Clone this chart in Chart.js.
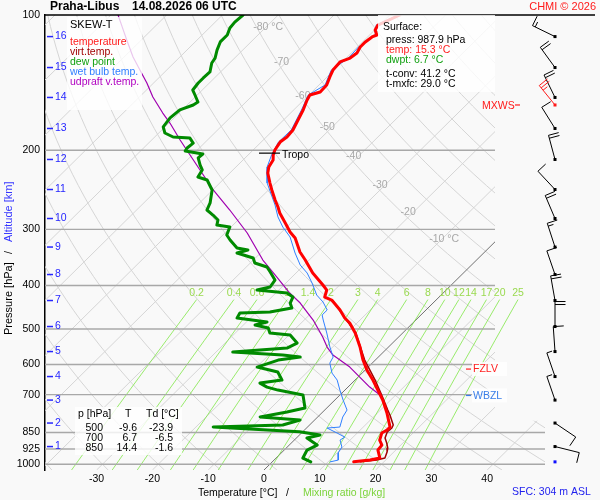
<!DOCTYPE html>
<html>
<head>
<meta charset="utf-8">
<title>Skew-T Praha-Libus</title>
<script src="https://cdn.jsdelivr.net/npm/chart.js@4.4.1/dist/chart.umd.min.js"></script>
<style>
html, body { margin: 0; padding: 0; background: #f9f9f9; }
canvas { display: block; }
</style>
</head>
<body>
<canvas id="skewt" width="600" height="500"></canvas>
<script>
// axis ticks
var pressureTicks = [100, 200, 300, 400, 500, 600, 700, 850, 925, 1000];
var tempTicks = [-30, -20, -10, 0, 10, 20, 30, 40];
var mixRatios = [0.2, 0.4, 0.6, 1, 1.4, 2, 3, 4, 6, 8, 10, 12, 14, 17, 20, 25];

// sounding: pressure [hPa] / temperature [°C]
var tempP = [100, 105.3, 108.0, 110.8, 111.9, 114.8, 117.8, 121.5, 124.7, 127.2, 132.6, 137.4, 143.2, 148.4, 150.7, 154.6,
    162.7, 171.3, 180.3, 186.9, 191.8, 199.8, 204.9, 210.3, 218.0, 224.8, 236.6, 245.2, 258.1, 267.6, 275.9, 290.4,
    304.2, 313.7, 337.0, 351.1, 375.3, 399.1, 409.5, 424.4, 431.0, 453.6, 472.6, 484.9, 510.4, 548.4, 586.3, 617.1,
    649.6, 683.8, 719.8, 769.2, 826.5, 839.3, 852.3, 883.5, 906.4, 929.9, 968.8, 978.8, 987.9];
var tempT = [-58.2, -60.3, -59.9, -58.7, -59.2, -59.5, -59.5, -59.0, -59.3, -60.4, -60.2, -59.5, -58.6, -58.5, -59.8, -59.4,
    -58.3, -57.4, -56.5, -56.3, -56.6, -56.1, -55.5, -54.6, -54.1, -53.2, -51.0, -49.4, -47.0, -45.2, -43.8, -41.0,
    -38.5, -36.5, -33.1, -30.7, -27.0, -23.0, -21.4, -20.5, -18.7, -15.4, -13.1, -11.3, -8.5, -5.1, -2.2, 0.3,
    3.2, 5.9, 8.6, 11.7, 14.8, 14.8, 14.4, 15.3, 16.6, 16.8, 18.6, 17.2, 14.6];

var virtP = [431.0, 510.4, 586.3, 649.6, 701.6, 757.4, 777.1, 817.9, 830.7, 847.9, 874.5, 897.0, 920.4, 939.5, 968.8, 978.8, 987.9];
var virtT = [-18.6, -8.4, -1.9, 3.6, 7.5, 11.3, 12.6, 15.0, 15.3, 15.2, 15.9, 17.1, 18.2, 18.8, 19.5, 18.4, 15.8];

var dewP = [100, 103.7, 106.9, 110.8, 114.8, 119.7, 124.7, 127.9, 133.9, 138.1, 141.7, 146.9, 150.7, 156.2, 158.6, 162.7,
    169.5, 177.5, 183.1, 186.9, 187.9, 192.8, 197.7, 200.8, 203.9, 208.1, 215.7, 221.3, 229.4, 233.0, 245.2, 262.1,
    271.7, 278.8, 286.0, 293.4, 296.5, 308.9, 316.9, 330.2, 333.5, 338.7, 347.5, 356.5, 363.9, 373.4, 389.0, 403.2,
    409.5, 415.8, 424.4, 437.7, 449.0, 458.3, 460.7, 472.6, 482.5, 489.9, 497.5, 510.4, 515.7, 537.3, 551.3, 562.7,
    571.4, 577.3, 586.3, 607.7, 623.5, 649.6, 659.7, 673.4, 683.8, 701.6, 749.7, 765.2, 785.1, 797.3, 817.9, 826.5,
    846.6, 861.1, 874.5, 906.4, 929.9, 968.8, 987.9];
var dewT = [-86.3, -86.5, -86.3, -85.5, -85.5, -84.6, -83.5, -83.2, -81.9, -82.0, -82.0, -81.7, -80.4, -78.6, -78.9, -80.4,
    -80.7, -80.3, -78.9, -76.7, -73.5, -72.0, -72.2, -72.0, -68.3, -68.4, -66.8, -65.5, -65.0, -62.8, -60.1, -58.1,
    -57.4, -55.4, -53.6, -52.9, -50.2, -49.3, -47.8, -45.1, -42.8, -44.2, -40.4, -39.2, -36.3, -34.8, -32.5, -32.1,
    -33.9, -28.0, -26.2, -25.6, -24.4, -27.6, -32.8, -32.4, -26.3, -27.9, -25.0, -23.8, -19.8, -17.1, -18.0, -27.0,
    -17.5, -14.0, -17.4, -19.9, -15.3, -13.1, -16.5, -14.5, -12.0, -6.6, -3.9, -6.4, -10.3, -2.6, -4.8, -16.9,
    -0.6, 3.7, 1.9, 5.0, 4.1, 4.8, 6.9];

var wetP = [100, 105.3, 110.8, 117.8, 124.7, 132.6, 143.2, 150.7, 162.7, 180.3, 191.8, 204.9, 218.0, 236.6, 264.8, 281.6,
    296.5, 312.0, 338.7, 360.2, 375.3, 395.1, 420.1, 435.4, 453.6, 465.4, 477.5, 510.4, 548.4, 577.3, 595.4, 626.7,
    649.6, 683.8, 719.8, 757.4, 785.1, 826.5, 830.7, 852.3, 870.0, 883.5, 915.7, 944.3, 978.8, 987.9];
var wetT = [-58.5, -60.6, -59.0, -59.8, -59.6, -60.5, -58.9, -60.1, -58.6, -56.8, -56.9, -55.8, -54.4, -51.5, -46.1, -43.4,
    -40.7, -37.6, -33.8, -30.7, -28.0, -25.3, -22.3, -19.9, -17.7, -17.7, -16.6, -13.6, -10.5, -8.1, -7.6, -5.4,
    -3.2, -0.9, 1.5, 4.0, 4.5, 5.8, 3.7, 6.4, 8.5, 8.2, 9.8, 10.2, 11.5, 10.4];

var parcelP = [100, 106.3, 113.7, 124.0, 132.6, 141.7, 152.2, 165.3, 174.0, 189.8, 199.8, 221.3, 245.2, 271.7, 305.7, 351.1,
    383.1, 415.8, 437.7, 477.5, 521.0, 548.4, 571.4, 607.7, 639.7, 673.4, 701.6];
var parcelT = [-108.7, -105.8, -102.6, -98.4, -94.8, -91.2, -87.6, -82.9, -79.8, -74.9, -71.9, -65.9, -59.9, -53.3, -46.0, -38.3,
    -32.7, -27.5, -23.8, -18.4, -13.6, -11.0, -8.5, -3.3, 0.3, 3.9, 7.2];

// altitude marks and winds at those heights
var altKm = [16, 15, 14, 13, 12, 11, 10, 9, 8, 7, 6, 5, 4, 3, 2, 1];
var altP = [111.7, 130.9, 152.6, 178.9, 209.7, 244.6, 283.8, 328.5, 378.2, 432.1, 493.7, 561.3, 638.0, 719.8, 809.7, 913.4];
var windDir = [296, 324, 334, 328, 345, 317, 337, 342, 341, 350, 360, 356, 341, 341, 124, 104];
var windSpd = [15, 20, 20, 10, 20, 10, 20, 15, 10, 20, 20, 10, 5, 5, 10, 10];
var mxwsP = 158.6, mxwsDir = 321, mxwsSpd = 25;

var tropoP = 203, fzlvP = 614, wbzlP = 703, sfcP = 987.9;

var tableP = [500, 700, 850];
var tableT = [-9.6, 6.7, 14.4];
var tableTd = [-23.9, -6.5, -1.6];

var surfaceLines = [
    ['press: 987.9 hPa', '#000'],
    ['temp: 15.3 °C', '#ff2020'],
    ['dwpt: 6.7 °C', '#10a010'],
    ['t-conv: 41.2 °C', '#000'],
    ['t-mxfc: 29.0 °C', '#000']
];

var SKEW = 81.5;          // °C shift per decade of pressure
var P_BOTTOM = 1030;
var DIAG_RIGHT = 495;
var BARB_X = 555;
var FONT = "'Liberation Sans', Arial, sans-serif";

function skewX(t, p) {
    return t + SKEW * Math.log10(P_BOTTOM / p);
}

function toPoints(ps, ts) {
    return ps.map(function (p, i) { return { x: skewX(ts[i], p), y: p }; });
}

function satTemp(w, p) {
    var e = w * p / (622 + w);
    var l = Math.log(e / 6.112);
    return 243.5 * l / (17.67 - l);
}

function line(label, ps, ts, color, width) {
    return {
        label: label,
        data: toPoints(ps, ts),
        showLine: true,
        borderColor: color,
        backgroundColor: color,
        borderWidth: width,
        pointRadius: 0,
        borderJoinStyle: 'round',
        borderCapStyle: 'round',
        fill: false,
        tension: 0
    };
}

function drawBarb(ctx, x, y, dir, spd, color) {
    var r = dir * Math.PI / 180;
    var sx = Math.sin(r), sy = -Math.cos(r);
    var bx = -sy, by = sx;
    var L = 25;
    ctx.strokeStyle = color;
    ctx.fillStyle = color;
    ctx.lineWidth = 1;
    ctx.beginPath();
    ctx.moveTo(x, y);
    ctx.lineTo(x + sx * L, y + sy * L);
    var pos = L, s = spd;
    while (s >= 10) {
        ctx.moveTo(x + sx * pos, y + sy * pos);
        ctx.lineTo(x + sx * pos + bx * 10.5, y + sy * pos + by * 10.5);
        pos -= 3;
        s -= 10;
    }
    if (s >= 5) {
        ctx.moveTo(x + sx * pos, y + sy * pos);
        ctx.lineTo(x + sx * pos + bx * 5.5, y + sy * pos + by * 5.5);
    }
    ctx.stroke();
    ctx.fillRect(x - 1.5, y - 1.5, 3, 3);
}

var skewPlugin = {
    id: 'skewPlugin',
    beforeDatasetsDraw: function (chart) {
        var ctx = chart.ctx, xs = chart.scales.x, ys = chart.scales.y, a = chart.chartArea;
        var P = function (t, p) { return [xs.getPixelForValue(skewX(t, p)), ys.getPixelForValue(p)]; };
        var yStep = ys.getPixelForValue(800);
        var i, p, q;

        ctx.save();
        ctx.beginPath();
        ctx.moveTo(a.left, a.top);
        ctx.lineTo(DIAG_RIGHT, a.top);
        ctx.lineTo(DIAG_RIGHT, yStep);
        ctx.lineTo(a.right, yStep);
        ctx.lineTo(a.right, a.bottom);
        ctx.lineTo(a.left, a.bottom);
        ctx.closePath();
        ctx.clip();
        ctx.lineWidth = 1;

        // dry adiabats
        ctx.strokeStyle = '#d5d5d5';
        for (var th = -40; th <= 180; th += 10) {
            ctx.beginPath();
            for (i = 0; i <= 40; i++) {
                p = P_BOTTOM * Math.pow(100 / P_BOTTOM, i / 40);
                q = P((th + 273.15) * Math.pow(p / 1000, 0.2857) - 273.15, p);
                if (i === 0) ctx.moveTo(q[0], q[1]); else ctx.lineTo(q[0], q[1]);
            }
            ctx.stroke();
        }
        // isotherms
        for (var t = -130; t <= 40; t += 10) {
            var b = P(t, P_BOTTOM), e = P(t, 100);
            ctx.strokeStyle = t === 0 ? '#707070' : '#d5d5d5';
            ctx.beginPath();
            ctx.moveTo(b[0], b[1]);
            ctx.lineTo(e[0], e[1]);
            ctx.stroke();
        }
        ctx.restore();

        // mixing ratio lines
        ctx.save();
        ctx.strokeStyle = 'rgba(120, 230, 60, 0.75)';
        ctx.lineWidth = 1;
        mixRatios.forEach(function (w) {
            ctx.beginPath();
            for (i = 0; i <= 12; i++) {
                p = P_BOTTOM - (P_BOTTOM - 430) * i / 12;
                q = P(satTemp(w, p), p);
                if (i === 0) ctx.moveTo(q[0], q[1]); else ctx.lineTo(q[0], q[1]);
            }
            ctx.stroke();
        });
        ctx.font = '10.5px ' + FONT;
        ctx.fillStyle = '#9ada50';
        ctx.textAlign = 'center';
        ctx.textBaseline = 'middle';
        mixRatios.forEach(function (w) {
            q = P(satTemp(w, 430), 430);
            ctx.fillText(String(w), q[0], q[1] - 6);
        });

        // pressure levels
        ctx.strokeStyle = '#a8a8a8';
        ctx.lineWidth = 1.4;
        pressureTicks.forEach(function (pp) {
            if (pp === 100) return;
            var y = ys.getPixelForValue(pp);
            ctx.beginPath();
            ctx.moveTo(a.left, y);
            ctx.lineTo(pp >= 850 ? a.right : DIAG_RIGHT, y);
            ctx.stroke();
        });

        // isotherm labels
        var labT = [-80, -70, -60, -50, -40, -30, -20, -10];
        var labP = [106.5, 127.2, 151.4, 177.5, 206, 239, 275, 315.6];
        ctx.fillStyle = '#a8a8a8';
        ctx.textAlign = 'left';
        labT.forEach(function (tt, k) {
            q = P(tt, labP[k]);
            var num = String(tt);
            var wNum = ctx.measureText(num).width;
            var txt = (tt === -80 || tt === -10) ? num + ' °C' : num;
            ctx.fillText(txt, q[0] - 5 - wNum / 2, q[1]);
        });
        ctx.restore();
    },
    afterDatasetsDraw: function (chart) {
        var ctx = chart.ctx, ys = chart.scales.y, a = chart.chartArea;
        ctx.save();
        ctx.font = '10.5px ' + FONT;
        ctx.textBaseline = 'middle';
        ctx.textAlign = 'left';

        // tropopause
        var yt = ys.getPixelForValue(tropoP);
        ctx.strokeStyle = '#000';
        ctx.lineWidth = 1.2;
        ctx.beginPath();
        ctx.moveTo(259, yt);
        ctx.lineTo(280, yt);
        ctx.stroke();
        ctx.fillStyle = '#000';
        ctx.fillText('Tropo', 282, yt + 2);

        // altitude marks
        ctx.strokeStyle = '#2626ff';
        ctx.fillStyle = '#2626ff';
        ctx.lineWidth = 1.5;
        altKm.forEach(function (km, k) {
            var y = ys.getPixelForValue(altP[k]);
            ctx.beginPath();
            ctx.moveTo(47, y);
            ctx.lineTo(53, y);
            ctx.stroke();
            ctx.fillText(String(km), 55, y);
        });

        // freezing and wet-bulb zero levels
        [[fzlvP, 'FZLV', '#ff2020'], [wbzlP, 'WBZL', '#3a7ee8']].forEach(function (lv) {
            var y = ys.getPixelForValue(lv[0]);
            ctx.fillStyle = 'rgba(255,255,255,0.85)';
            ctx.fillRect(472, y - 7, 35, 14);
            ctx.strokeStyle = lv[2];
            ctx.lineWidth = 1.2;
            ctx.beginPath();
            ctx.moveTo(466, y);
            ctx.lineTo(471, y);
            ctx.stroke();
            ctx.fillStyle = lv[2];
            ctx.fillText(lv[1], 473, y + 0.5);
        });

        // wind barbs
        altP.forEach(function (p, k) {
            drawBarb(ctx, BARB_X, ys.getPixelForValue(p), windDir[k], windSpd[k], '#000');
        });
        drawBarb(ctx, BARB_X, ys.getPixelForValue(mxwsP), mxwsDir, mxwsSpd, '#ff1a1a');
        ctx.fillStyle = '#1010ff';
        ctx.fillRect(BARB_X - 1.5, ys.getPixelForValue(sfcP) - 1.5, 3, 3);

        // top border
        ctx.strokeStyle = '#000';
        ctx.lineWidth = 1.5;
        ctx.beginPath();
        ctx.moveTo(a.left, a.top);
        ctx.lineTo(595, a.top);
        ctx.stroke();
        ctx.restore();
    },
    afterDraw: function (chart) {
        var ctx = chart.ctx, ys = chart.scales.y, ds = chart.data.datasets;
        ctx.save();
        ctx.textBaseline = 'middle';
        ctx.textAlign = 'left';

        // title
        ctx.font = 'bold 12px ' + FONT;
        ctx.fillStyle = '#000';
        ctx.fillText('Praha-Libus', 50, 7);
        ctx.fillText('14.08.2026 06 UTC', 132, 7);
        ctx.font = '11px ' + FONT;
        ctx.fillStyle = '#ff1a1a';
        ctx.textAlign = 'right';
        ctx.fillText('CHMI © 2026', 596, 7);
        ctx.textAlign = 'left';

        // legend box
        ctx.fillStyle = 'rgba(255,255,255,0.78)';
        ctx.fillRect(67, 17, 75, 93);
        ctx.font = '11px ' + FONT;
        ctx.fillStyle = '#000';
        ctx.fillText('SKEW-T', 70, 25);
        ctx.font = '10.5px ' + FONT;
        var legendColors = ['#ff1a1a', '#a00000', '#10a010', '#2f7fff', '#b000c0'];
        ds.forEach(function (d, k) {
            ctx.fillStyle = legendColors[k];
            ctx.fillText(d.label, 70, 42 + k * 10);
        });

        // surface box
        ctx.fillStyle = 'rgba(255,255,255,0.8)';
        ctx.fillRect(378, 15, 117, 77);
        ctx.fillStyle = '#000';
        ctx.fillText('Surface:', 383, 27);
        var sy = [40, 50, 60, 74, 84];
        surfaceLines.forEach(function (s, k) {
            ctx.fillStyle = s[1];
            ctx.fillText(s[0], 386, sy[k]);
        });

        // table box
        ctx.fillStyle = 'rgba(255,255,255,0.8)';
        ctx.fillRect(75, 407, 107, 48);
        ctx.fillStyle = '#000';
        ctx.fillText('p [hPa]', 78, 414);
        ctx.fillText('T', 125, 414);
        ctx.fillText('Td [°C]', 146, 414);
        ctx.textAlign = 'right';
        tableP.forEach(function (p, k) {
            var y = 428 + k * 10;
            ctx.fillText(String(p), 103, y);
            ctx.fillText(tableT[k].toFixed(1), 137, y);
            ctx.fillText(tableTd[k].toFixed(1), 173, y);
        });
        ctx.textAlign = 'left';

        // MXWS marker
        var ym = ys.getPixelForValue(mxwsP);
        ctx.fillStyle = '#ff1a1a';
        ctx.fillText('MXWS', 482, ym + 1);
        ctx.strokeStyle = '#ff1a1a';
        ctx.lineWidth = 1.2;
        ctx.beginPath();
        ctx.moveTo(515, ym);
        ctx.lineTo(520, ym);
        ctx.stroke();

        // axis titles
        ctx.fillStyle = '#000';
        ctx.fillText('Temperature [°C]', 198, 493);
        ctx.fillText('/', 286, 493);
        ctx.fillStyle = '#7bd33a';
        ctx.fillText('Mixing ratio [g/kg]', 303, 493);
        ctx.fillStyle = '#2222ee';
        ctx.fillText('SFC: 304 m ASL', 512, 492);

        ctx.translate(9, 259);
        ctx.rotate(-Math.PI / 2);
        ctx.font = '11px ' + FONT;
        ctx.fillStyle = '#000';
        ctx.fillText('Pressure [hPa]', -76, 0);
        ctx.fillText('/', 5, 0);
        ctx.fillStyle = '#3535ff';
        ctx.fillText('Altitude [km]', 17, 0);
        ctx.restore();
    }
};

Chart.defaults.font.family = FONT;
Chart.defaults.font.size = 10.5;
Chart.defaults.color = '#000';

new Chart(document.getElementById('skewt'), {
    type: 'scatter',
    data: {
        datasets: [
            line('temperature', tempP, tempT, '#ff0000', 3),
            line('virt.temp.', virtP, virtT, '#a00000', 1.5),
            line('dew point', dewP, dewT, '#008a00', 3),
            line('wet bulb temp.', wetP, wetT, '#2f7fff', 1),
            line('udpraft v.temp.', parcelP, parcelT, '#a000b0', 1.2)
        ]
    },
    options: {
        responsive: false,
        animation: false,
        devicePixelRatio: 1,
        events: [],
        layout: { padding: { top: 15, right: 55, bottom: 0, left: 0 } },
        scales: {
            x: {
                type: 'linear',
                min: -39.25,
                max: 50.36,
                afterBuildTicks: function (s) { s.ticks = tempTicks.map(function (v) { return { value: v }; }); },
                afterFit: function (s) { s.height = 30; },
                grid: { display: false, drawTicks: false },
                border: { display: false },
                ticks: { padding: 3, autoSkip: false, maxRotation: 0 }
            },
            y: {
                type: 'logarithmic',
                reverse: true,
                min: 100,
                max: P_BOTTOM,
                afterBuildTicks: function (s) { s.ticks = pressureTicks.map(function (v) { return { value: v }; }); },
                afterFit: function (s) { s.width = 45; },
                grid: { display: false, drawTicks: false },
                border: { display: true, color: '#000', width: 1.5 },
                ticks: { padding: 5, autoSkip: false, callback: function (v) { return String(v); } }
            }
        },
        plugins: {
            legend: { display: false },
            tooltip: { enabled: false }
        }
    },
    plugins: [skewPlugin]
});
</script>
</body>
</html>
